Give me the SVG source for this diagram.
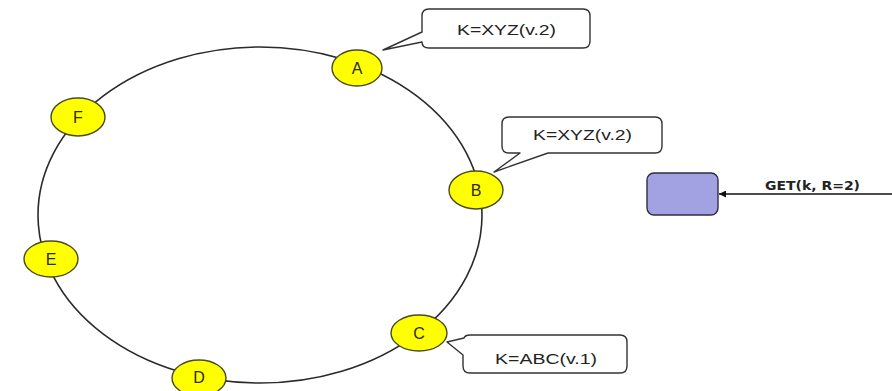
<svg xmlns="http://www.w3.org/2000/svg" width="892" height="391" viewBox="0 0 892 391">
  <style>
    .ring { fill: none; stroke: #2a2a2a; stroke-width: 1.6; }
    .node ellipse { fill: #ffff00; stroke: #4a4a20; stroke-width: 1.4; }
    .node text { font-family: "Liberation Sans", Arial, sans-serif; font-size: 16px; fill: #2a2a2a; text-anchor: middle; }
    .callout path { fill: #ffffff; stroke: #333333; stroke-width: 1.4; stroke-linejoin: round; }
    .callout text { font-family: "Liberation Sans", Arial, sans-serif; font-size: 15px; fill: #222222; }
    .coord rect { fill: #a2a2e2; stroke: #2e2e40; stroke-width: 1.4; }
    .edge { stroke: #111111; stroke-width: 1.5; fill: none; }
    .elabel { font-family: "DejaVu Sans", Verdana, sans-serif; font-weight: bold; font-size: 12px; fill: #222222; }
  </style>
  <defs>
    <marker id="arrow" viewBox="0 0 10 10" refX="10" refY="5" markerWidth="7" markerHeight="7" orient="auto" markerUnits="userSpaceOnUse">
      <path d="M0,0 L10,5 L0,10 Z" fill="#111111"/>
    </marker>
  </defs>

  <rect width="892" height="391" fill="#ffffff"/>

  <!-- hash ring -->
  <g id="ring">
    <ellipse class="ring" cx="260" cy="215" rx="222" ry="168"/>
  </g>

  <!-- connectors -->
  <g id="connectors">
    <line class="edge" x1="892" y1="194" x2="719" y2="194" marker-end="url(#arrow)"/>
    <text class="elabel" x="765" y="190" textLength="95" lengthAdjust="spacingAndGlyphs">GET(k, R=2)</text>
  </g>

  <!-- coordinator -->
  <g id="coordinator" class="coord">
    <rect x="647" y="173" width="71" height="42" rx="7" ry="7"/>
  </g>

  <!-- ring nodes -->
  <g id="node-A" class="node">
    <ellipse cx="357" cy="68" rx="25" ry="18"/>
    <text x="357" y="74">A</text>
  </g>
  <g id="node-B" class="node">
    <ellipse cx="476" cy="190" rx="27" ry="19"/>
    <text x="476" y="196">B</text>
  </g>
  <g id="node-C" class="node">
    <ellipse cx="419" cy="333" rx="28" ry="18"/>
    <text x="419" y="339">C</text>
  </g>
  <g id="node-D" class="node">
    <ellipse cx="199" cy="378" rx="27" ry="18"/>
    <text x="199" y="383">D</text>
  </g>
  <g id="node-E" class="node">
    <ellipse cx="51" cy="259" rx="27" ry="18"/>
    <text x="51" y="265">E</text>
  </g>
  <g id="node-F" class="node">
    <ellipse cx="78" cy="117" rx="27" ry="19"/>
    <text x="78" y="123">F</text>
  </g>

  <!-- version callouts -->
  <g id="callout-A" class="callout">
    <path d="M429,9 H583 Q590,9 590,16 V41 Q590,48 583,48 H429 Q422,48 422,42 L383,50 L422,32 V16 Q422,9 429,9 Z"/>
    <text x="457" y="35" textLength="99" lengthAdjust="spacingAndGlyphs">K=XYZ(v.2)</text>
  </g>
  <g id="callout-B" class="callout">
    <path d="M509,117 H655 Q662,117 662,124 V146 Q662,153 655,153 H548 L494,172 L520,153 H509 Q502,153 502,146 V124 Q502,117 509,117 Z"/>
    <text x="533" y="140" textLength="99" lengthAdjust="spacingAndGlyphs">K=XYZ(v.2)</text>
  </g>
  <g id="callout-C" class="callout">
    <path d="M470,335 H620 Q627,335 627,342 V366 Q627,373 620,373 H470 Q463,373 463,366 V355 L447,342 L464,338 Q465,335 470,335 Z"/>
    <text x="495" y="364" textLength="102" lengthAdjust="spacingAndGlyphs">K=ABC(v.1)</text>
  </g>
</svg>
